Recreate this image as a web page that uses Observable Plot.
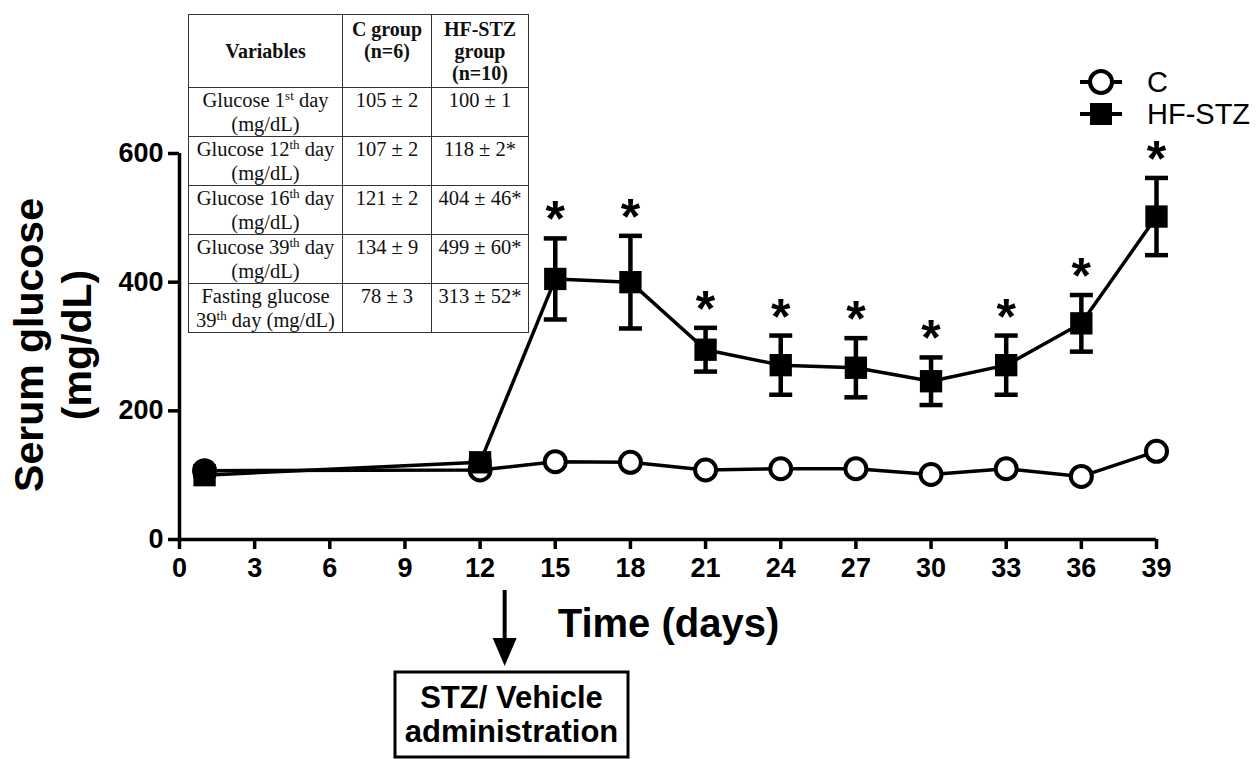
<!DOCTYPE html>
<html><head><meta charset="utf-8">
<script src="https://cdn.jsdelivr.net/npm/d3@7"></script>
<script src="https://cdn.jsdelivr.net/npm/@observablehq/plot@0.6"></script>
<style>
body{margin:0;background:#fff;}
#wrap{position:relative;width:1257px;height:759px;overflow:hidden;background:#fff;}
#tbl{position:absolute;left:188px;top:14px;border-collapse:collapse;table-layout:fixed;width:340px;font-family:"Liberation Serif","Times New Roman",serif;font-size:20.5px;color:#111;background:#fff;}
#tbl td,#tbl th{border:1.5px solid #333;padding:0 1px;text-align:center;vertical-align:top;line-height:24px;overflow:visible;white-space:nowrap;}
#tbl th{height:73px;font-weight:bold;font-size:20px;line-height:22px;padding-top:3px;box-sizing:border-box;}
#tbl th.mid{vertical-align:middle;padding-top:0;}
#tbl td{height:49px;box-sizing:border-box;}
#tbl sup{font-size:13px;line-height:0;vertical-align:7px;}
</style></head><body><div id="wrap"></div>
<script>
// ---- data ----
const days = [1, 12, 15, 18, 21, 24, 27, 30, 33, 36, 39];
const cMean = [107, 108, 121, 120, 108, 110, 110, 101, 110, 98, 137];
const hfMean = [100, 120, 405, 400, 295, 271, 267, 246, 271, 336, 502];
const hfErr = [1, 2, 63, 72, 34, 46, 46, 37, 46, 44, 60];
const hfSig = [false, false, true, true, true, true, true, true, true, true, true];
const xTicks = [0, 3, 6, 9, 12, 15, 18, 21, 24, 27, 30, 33, 36, 39];
const yTicks = [0, 200, 400, 600];
const seriesNames = ["C", "HF-STZ"];
const xLabel = "Time (days)";
const yLabelLines = ["Serum glucose", "(mg/dL)"];
const eventDay = 13;
const eventLabel = ["STZ/ Vehicle", "administration"];
const tableHeader = ["Variables", "C group<br>(n=6)", "HF-STZ<br>group<br>(n=10)"];
const tableVars = [
  "Glucose 1<sup>st</sup> day<br>(mg/dL)",
  "Glucose 12<sup>th</sup> day<br>(mg/dL)",
  "Glucose 16<sup>th</sup> day<br>(mg/dL)",
  "Glucose 39<sup>th</sup> day<br>(mg/dL)",
  "Fasting glucose<br>39<sup>th</sup> day (mg/dL)"
];
const tableC = ["105 ± 2", "107 ± 2", "121 ± 2", "134 ± 9", "78 ± 3"];
const tableHF = ["100 ± 1", "118 ± 2*", "404 ± 46*", "499 ± 60*", "313 ± 52*"];

// ---- build ----
const data = days.map((d, i) => ({
  day: d, c: cMean[i], hf: hfMean[i],
  lo: hfMean[i] - hfErr[i], hi: hfMean[i] + hfErr[i], sig: hfSig[i]
}));
const font = "'Liberation Sans', Arial, Helvetica, sans-serif";
const cap = {draw(ctx, size) { const w = Math.sqrt(size / Math.PI); ctx.moveTo(-w, 0); ctx.lineTo(w, 0); }};

const plot = Plot.plot({
  width: 1257, height: 759,
  marginLeft: 179, marginRight: 101, marginTop: 153, marginBottom: 220,
  style: {fontFamily: font, background: "white", color: "black", overflow: "visible"},
  x: {domain: [0, 39]},
  y: {domain: [0, 600]},
  marks: [
    Plot.axisX({ticks: xTicks, tickSize: 10, strokeWidth: 3.5, fontSize: 27, fontWeight: "bold", tickPadding: 8, label: null, fill: "black"}),
    Plot.axisY({ticks: yTicks, tickSize: 11, strokeWidth: 3.5, fontSize: 27, fontWeight: "bold", tickPadding: 5, label: null, fill: "black"}),
    Plot.ruleY([0], {x1: 0, x2: 39, strokeWidth: 3.5, stroke: "black"}),
    Plot.ruleX([0], {y1: 0, y2: 600, strokeWidth: 3.5, stroke: "black"}),
    Plot.ruleX(data, {x: "day", y1: "lo", y2: "hi", strokeWidth: 4.5, stroke: "black"}),
    Plot.dot(data, {x: "day", y: "hi", symbol: cap, r: 11.5, stroke: "black", strokeWidth: 4.5}),
    Plot.dot(data, {x: "day", y: "lo", symbol: cap, r: 11.5, stroke: "black", strokeWidth: 4.5}),
    Plot.line(data, {x: "day", y: "c", strokeWidth: 3.5, stroke: "black"}),
    Plot.dot(data, {x: "day", y: "c", r: 10.5, stroke: "black", strokeWidth: 4, fill: d => d.day === 1 ? "black" : "white"}),
    Plot.line(data, {x: "day", y: "hf", strokeWidth: 3.5, stroke: "black"}),
    Plot.dot(data, {x: "day", y: "hf", symbol: "square", r: 12.6, fill: "black", stroke: "none"}),
    Plot.text(data.filter(d => d.sig), {x: "day", y: "hi", text: () => "*", dy: -18, fontSize: 50, fontWeight: "bold", fill: "black"})
  ]
});
document.getElementById("wrap").appendChild(plot);

const svg = d3.select(plot);
const xs = plot.scale("x");

// y axis label
yLabelLines.forEach((t, i) => {
  svg.append("text").attr("transform", `translate(${43 + i * 48},345) rotate(-90)`)
    .attr("text-anchor", "middle").attr("font-family", font).attr("font-weight", "bold")
    .attr("font-size", 41).attr("fill", "black").text(t);
});
// x axis label
svg.append("text").attr("x", (xs.apply(0) + xs.apply(39)) / 2 + 1).attr("y", 637)
  .attr("text-anchor", "middle").attr("font-family", font).attr("font-weight", "bold")
  .attr("font-size", 40).attr("fill", "black").text(xLabel);

// legend
const lg = svg.append("g");
const lx = 1101;
[82, 114].forEach((ly, i) => {
  lg.append("line").attr("x1", lx - 21).attr("x2", lx + 21).attr("y1", ly).attr("y2", ly).attr("stroke", "black").attr("stroke-width", 4);
  if (i === 0) lg.append("circle").attr("cx", lx).attr("cy", ly).attr("r", 11).attr("fill", "white").attr("stroke", "black").attr("stroke-width", 4);
  else lg.append("rect").attr("x", lx - 11).attr("y", ly - 11).attr("width", 22).attr("height", 22).attr("fill", "black");
  lg.append("text").attr("x", 1147).attr("y", ly).attr("dy", "0.36em").attr("text-anchor", "start").attr("font-family", font)
    .attr("font-size", 29).attr("fill", "black").text(seriesNames[i]);
});

// event arrow + box
const xa = xs.apply(eventDay);
svg.append("line").attr("x1", xa).attr("x2", xa).attr("y1", 590).attr("y2", 642).attr("stroke", "black").attr("stroke-width", 4);
svg.append("path").attr("d", `M${xa - 12},638L${xa + 12},638L${xa},666Z`).attr("fill", "black");
svg.append("rect").attr("x", 395).attr("y", 672).attr("width", 233).attr("height", 85)
  .attr("fill", "white").attr("stroke", "black").attr("stroke-width", 3);
eventLabel.forEach((t, i) => {
  svg.append("text").attr("x", 511.5).attr("y", 708 + i * 34).attr("text-anchor", "middle")
    .attr("font-family", font).attr("font-weight", "bold").attr("font-size", 31).attr("fill", "black").text(t);
});

// table
const tbl = document.createElement("table");
tbl.id = "tbl";
let html = '<colgroup><col style="width:154px"><col style="width:89px"><col style="width:97px"></colgroup>';
html += `<tr><th class="mid">${tableHeader[0]}</th><th>${tableHeader[1]}</th><th>${tableHeader[2]}</th></tr>`;
tableVars.forEach((v, i) => {
  html += `<tr><td>${v}</td><td>${tableC[i]}</td><td>${tableHF[i]}</td></tr>`;
});
tbl.innerHTML = html;
document.getElementById("wrap").appendChild(tbl);
</script>
</body></html>
